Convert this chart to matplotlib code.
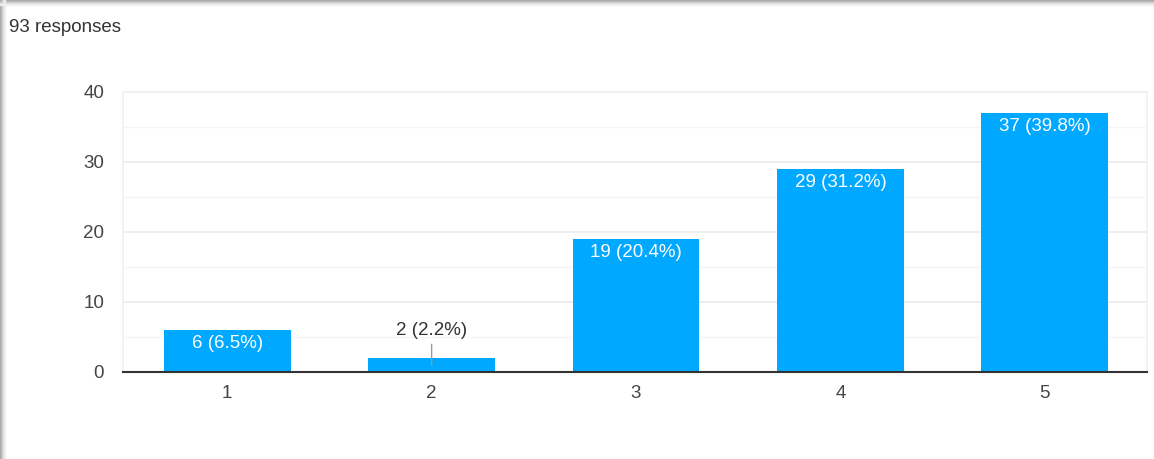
import matplotlib.pyplot as plt
from matplotlib.patches import Rectangle

categories = ["1", "2", "3", "4", "5"]
counts = [6, 2, 19, 29, 37]
percents = ["6.5%", "2.2%", "20.4%", "31.2%", "39.8%"]
total_label = "93 responses"
y_ticks = [0, 10, 20, 30, 40]

FS = 13.5
plt.rcParams.update({"font.family": ["Liberation Sans", "DejaVu Sans"], "font.size": FS})

fig = plt.figure(figsize=(11.54, 4.59), dpi=100)
fig.patch.set_facecolor("white")

# window shadow along top and left edges
shades = ["#a8a8a8", "#b8b8b8", "#cacaca", "#dcdcdc", "#eeeeee"]
for i, c in enumerate(shades):
    fig.patches.append(Rectangle((0, 1 - (i + 1) / 459), 1, 1 / 459,
                                 transform=fig.transFigure, color=c, zorder=0))
    fig.patches.append(Rectangle((i / 1154, 0), 1 / 1154, 1,
                                 transform=fig.transFigure, color=c, zorder=0))

fig.text(9 / 1154, 1 - 28 / 459, total_label, fontsize=FS, color="#333333",
         va="center", ha="left")

ax = fig.add_axes([123 / 1154, 1 - 372 / 459, (1147 - 123) / 1154, (372 - 92) / 459])
x = range(len(categories))
ax.bar(x, counts, width=0.62, color="#00a8ff", zorder=3)

ax.set_xlim(-0.51, 4.5)
ax.set_ylim(0, 40)
ax.set_yticks(y_ticks)
ax.set_yticks([5, 15, 25, 35], minor=True)
ax.grid(axis="y", which="major", color="#ebebeb", linewidth=1.2, zorder=0)
ax.grid(axis="y", which="minor", color="#f5f5f5", linewidth=1.0, zorder=0)
ax.set_xticks(list(x))
ax.set_xticklabels(categories)
ax.tick_params(axis="both", which="both", length=0, labelsize=FS, colors="#444444")
ax.tick_params(axis="x", pad=9)
ax.tick_params(axis="y", pad=13.5)

for side in ["top", "right", "left"]:
    ax.spines[side].set_color("#f0f0f0")
    ax.spines[side].set_linewidth(1.2)
ax.spines["bottom"].set_color("#333333")
ax.spines["bottom"].set_linewidth(1.5)
ax.spines["bottom"].set_zorder(4)

for xi, n, p in zip(x, counts, percents):
    label = f"{n} ({p})"
    if n >= 5:
        ax.annotate(label, (xi, n), xytext=(0, -9.8), textcoords="offset points",
                    ha="center", va="center", color="white", fontsize=FS, zorder=5)
    else:
        ax.annotate(label, (xi, n / 2), xytext=(0, 25), textcoords="offset points",
                    ha="center", va="center", color="#333333", fontsize=FS, zorder=5,
                    arrowprops=dict(arrowstyle="-", color="#999999", lw=1.0,
                                    shrinkA=2, shrinkB=0))

fig.savefig("out.png", dpi=100)
